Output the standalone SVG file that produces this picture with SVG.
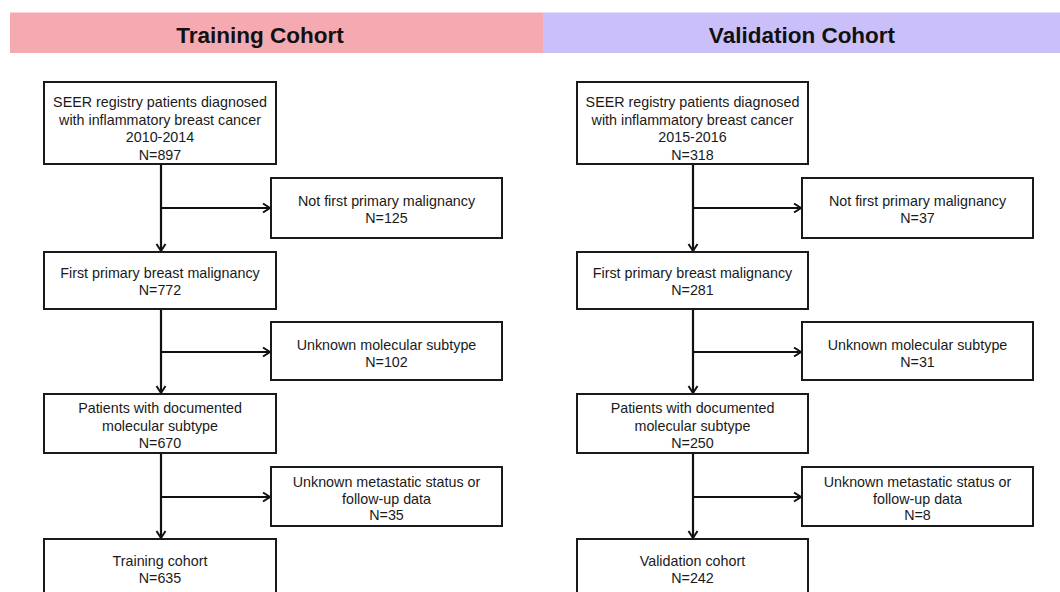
<svg xmlns="http://www.w3.org/2000/svg" width="1060" height="592" viewBox="0 0 1060 592">
<style>
.box{fill:#fff;stroke:#1a1a1a;stroke-width:2}
.t{font-family:"Liberation Sans",Arial,sans-serif;font-size:14.3px;fill:#1a1a1a;text-anchor:middle}
.h{font-family:"Liberation Sans",Arial,sans-serif;font-size:22.5px;font-weight:bold;fill:#111;text-anchor:middle}
.c{fill:none;stroke:#111;stroke-width:2.2}
</style>
<defs>
<marker id="arr" markerWidth="10" markerHeight="12" refX="8" refY="6" orient="auto" markerUnits="userSpaceOnUse">
<path d="M1,1.5 L8,6 L1,10.5" fill="none" stroke="#111" stroke-width="2"/>
</marker>
</defs>
<rect width="1060" height="592" fill="#fff"/>
<g id="header-training"><rect x="10" y="12.5" width="533" height="40.5" fill="#f5a9b1"/><text class="h" x="260" y="42.5">Training Cohort</text></g>
<g id="header-validation"><rect x="543" y="12.5" width="517" height="40.5" fill="#cbbff9"/><text class="h" x="802" y="42.5">Validation Cohort</text></g>

<g id="connectors">
<line class="c" x1="161" y1="164" x2="161" y2="251" marker-end="url(#arr)"/>
<line class="c" x1="161" y1="208" x2="270" y2="208" marker-end="url(#arr)"/>
<line class="c" x1="161" y1="309" x2="161" y2="393" marker-end="url(#arr)"/>
<line class="c" x1="161" y1="352" x2="270" y2="352" marker-end="url(#arr)"/>
<line class="c" x1="161" y1="453" x2="161" y2="538" marker-end="url(#arr)"/>
<line class="c" x1="161" y1="497" x2="270" y2="497" marker-end="url(#arr)"/>
<line class="c" x1="693" y1="164" x2="693" y2="251" marker-end="url(#arr)"/>
<line class="c" x1="693" y1="208" x2="801" y2="208" marker-end="url(#arr)"/>
<line class="c" x1="693" y1="309" x2="693" y2="393" marker-end="url(#arr)"/>
<line class="c" x1="693" y1="352" x2="801" y2="352" marker-end="url(#arr)"/>
<line class="c" x1="693" y1="453" x2="693" y2="538" marker-end="url(#arr)"/>
<line class="c" x1="693" y1="497" x2="801" y2="497" marker-end="url(#arr)"/>
</g>

<g id="t-start"><rect class="box" x="44" y="82" width="232" height="82"/>
<text class="t" x="160" y="107">SEER registry patients diagnosed</text>
<text class="t" x="160" y="124.5">with inflammatory breast cancer</text>
<text class="t" x="160" y="142">2010-2014</text>
<text class="t" x="160" y="159.5">N=897</text></g>
<g id="t-ex1"><rect class="box" x="271" y="178" width="231" height="60"/>
<text class="t" x="386.5" y="206">Not first primary malignancy</text>
<text class="t" x="386.5" y="223">N=125</text></g>
<g id="t-first"><rect class="box" x="44" y="252" width="232" height="57"/>
<text class="t" x="160" y="278">First primary breast malignancy</text>
<text class="t" x="160" y="295">N=772</text></g>
<g id="t-ex2"><rect class="box" x="271" y="322" width="231" height="58"/>
<text class="t" x="386.5" y="350">Unknown molecular subtype</text>
<text class="t" x="386.5" y="367">N=102</text></g>
<g id="t-doc"><rect class="box" x="44" y="394" width="232" height="59"/>
<text class="t" x="160" y="413">Patients with documented</text>
<text class="t" x="160" y="430.5">molecular subtype</text>
<text class="t" x="160" y="448">N=670</text></g>
<g id="t-ex3"><rect class="box" x="271" y="467" width="231" height="59"/>
<text class="t" x="386.5" y="487">Unknown metastatic status or</text>
<text class="t" x="386.5" y="503.5">follow-up data</text>
<text class="t" x="386.5" y="520">N=35</text></g>
<g id="t-final"><rect class="box" x="44" y="539" width="232" height="70"/>
<text class="t" x="160" y="566">Training cohort</text>
<text class="t" x="160" y="583">N=635</text></g>

<g id="v-start"><rect class="box" x="577" y="82" width="231" height="82"/>
<text class="t" x="692.5" y="107">SEER registry patients diagnosed</text>
<text class="t" x="692.5" y="124.5">with inflammatory breast cancer</text>
<text class="t" x="692.5" y="142">2015-2016</text>
<text class="t" x="692.5" y="159.5">N=318</text></g>
<g id="v-ex1"><rect class="box" x="802" y="178" width="231" height="60"/>
<text class="t" x="917.5" y="206">Not first primary malignancy</text>
<text class="t" x="917.5" y="223">N=37</text></g>
<g id="v-first"><rect class="box" x="577" y="252" width="231" height="57"/>
<text class="t" x="692.5" y="278">First primary breast malignancy</text>
<text class="t" x="692.5" y="295">N=281</text></g>
<g id="v-ex2"><rect class="box" x="802" y="322" width="231" height="58"/>
<text class="t" x="917.5" y="350">Unknown molecular subtype</text>
<text class="t" x="917.5" y="367">N=31</text></g>
<g id="v-doc"><rect class="box" x="577" y="394" width="231" height="59"/>
<text class="t" x="692.5" y="413">Patients with documented</text>
<text class="t" x="692.5" y="430.5">molecular subtype</text>
<text class="t" x="692.5" y="448">N=250</text></g>
<g id="v-ex3"><rect class="box" x="802" y="467" width="231" height="59"/>
<text class="t" x="917.5" y="487">Unknown metastatic status or</text>
<text class="t" x="917.5" y="503.5">follow-up data</text>
<text class="t" x="917.5" y="520">N=8</text></g>
<g id="v-final"><rect class="box" x="577" y="539" width="231" height="70"/>
<text class="t" x="692.5" y="566">Validation cohort</text>
<text class="t" x="692.5" y="583">N=242</text></g>
</svg>
